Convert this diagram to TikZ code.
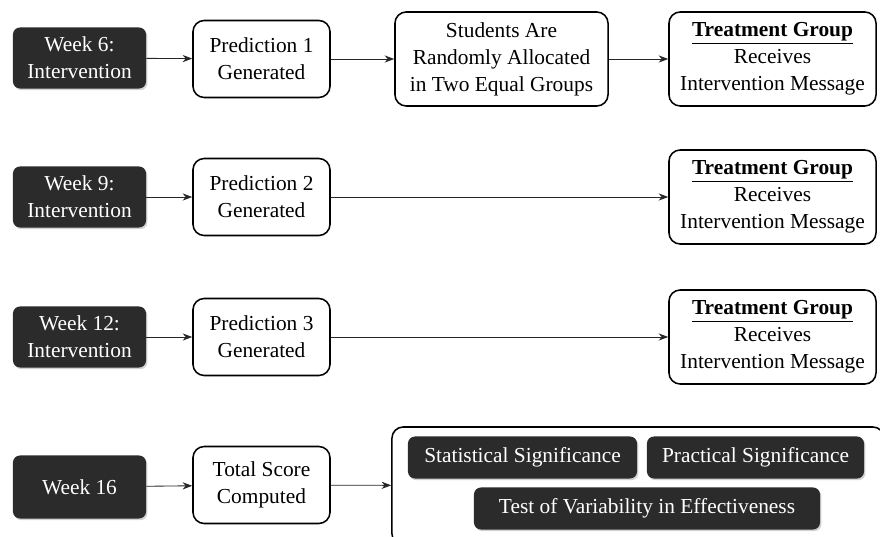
\documentclass[tikz,border=0pt]{standalone}
\usepackage{fontspec}
\setmainfont{Liberation Serif}
\usetikzlibrary{shapes,arrows,arrows.meta,positioning,shadows}

\begin{document}
\begin{tikzpicture}[
    x=0.025cm, y=-0.025cm,
    every node/.style={font=\fontsize{15.2}{19.2}\selectfont},
    week/.style={rectangle, rounded corners=5pt, fill=black!83, text=white, align=center, inner sep=0pt, drop shadow={shadow xshift=1pt, shadow yshift=-1.2pt, opacity=0.35}},
    stage/.style={rectangle, rounded corners=8pt, draw=black, fill=white, line width=1.1pt, align=center, inner sep=0pt},
    result/.style={week, minimum height=1.05cm},
    arrow/.style={-{Stealth[length=2.4mm, width=1.8mm]}, draw=black!85, line width=0.6pt}
]
\clip (0,0) rectangle (880,537);
\useasboundingbox (0,0) rectangle (880,537);

% FILA 1: SEMANA 6
\node[week, minimum width=3.325cm, minimum height=1.525cm] (week6) at (79.5,58) {Week 6:\\Intervention};
\node[stage, minimum width=3.425cm, minimum height=1.925cm] (pred1) at (261.5,59) {Prediction 1\\Generated};
\node[stage, minimum width=5.325cm, minimum height=2.35cm] (alloc) at (501.5,59) {Students Are\\Randomly Allocated\\in Two Equal Groups};
\node[stage, minimum width=5.175cm, minimum height=2.35cm] (treat1) at (772.5,59) {\underline{\textbf{Treatment Group}}\\Receives\\Intervention Message};

% FILA 2: SEMANA 9
\node[week, minimum width=3.325cm, minimum height=1.525cm] (week9) at (79.5,197) {Week 9:\\Intervention};
\node[stage, minimum width=3.425cm, minimum height=1.925cm] (pred2) at (261.5,197) {Prediction 2\\Generated};
\node[stage, minimum width=5.175cm, minimum height=2.35cm] (treat2) at (772.5,197) {\underline{\textbf{Treatment Group}}\\Receives\\Intervention Message};

% FILA 3: SEMANA 12
\node[week, minimum width=3.325cm, minimum height=1.525cm] (week12) at (79.5,337) {Week 12:\\Intervention};
\node[stage, minimum width=3.425cm, minimum height=1.925cm] (pred3) at (261.5,337) {Prediction 3\\Generated};
\node[stage, minimum width=5.175cm, minimum height=2.35cm] (treat3) at (772.5,337) {\underline{\textbf{Treatment Group}}\\Receives\\Intervention Message};

% FILA 4: SEMANA 16
\node[week, minimum width=3.325cm, minimum height=1.575cm] (week16) at (79.5,487) {Week 16};
\node[stage, minimum width=3.425cm, minimum height=1.925cm] (total) at (261.5,485) {Total Score\\Computed};
\node[stage, minimum width=12.3cm, minimum height=2.95cm] (analysis) at (638,486) {};
\node[result, minimum width=5.725cm] (statsig) at (522.5,457.5) {Statistical Significance};
\node[result, minimum width=5.425cm] (pracsig) at (755.5,457.5) {Practical Significance};
\node[result, minimum width=8.65cm] (variab) at (647,508.5) {Test of Variability in Effectiveness};

% CONEXIONES
\draw[arrow] (week6) -- (pred1);
\draw[arrow] (pred1) -- (alloc);
\draw[arrow] (alloc) -- (treat1);
\draw[arrow] (week9) -- (pred2);
\draw[arrow] (pred2) -- (treat2);
\draw[arrow] (week12) -- (pred3);
\draw[arrow] (pred3) -- (treat3);
\draw[arrow] (week16) -- (total);
\draw[arrow] (total) -- (analysis);

\end{tikzpicture}
\end{document}
